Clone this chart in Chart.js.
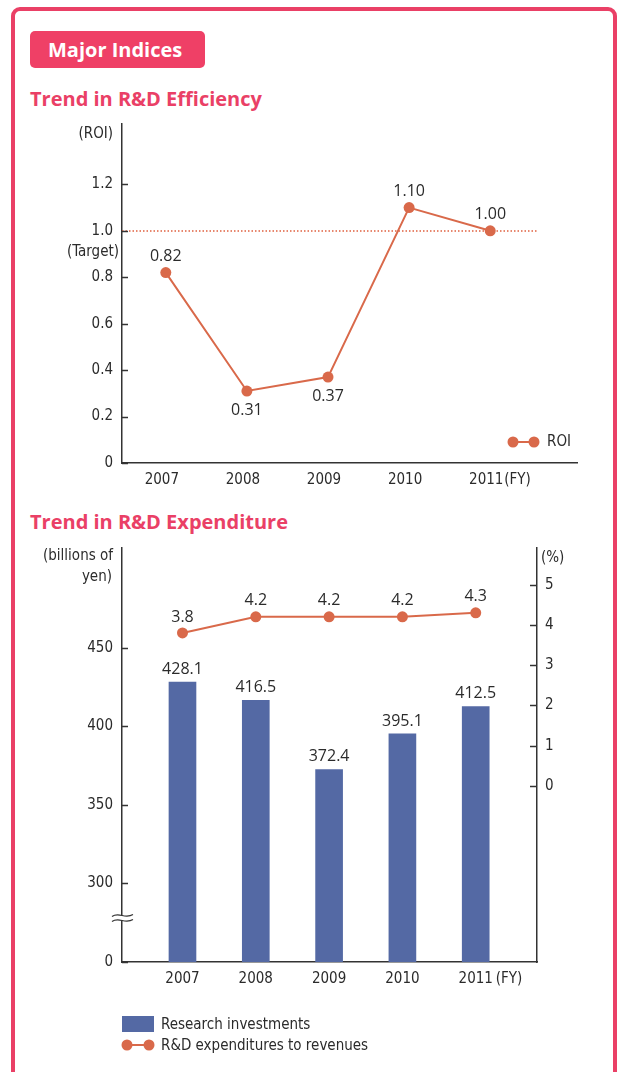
<!DOCTYPE html>
<html>
<head>
<meta charset="utf-8">
<script src="https://cdn.jsdelivr.net/npm/chart.js@4.4.0/dist/chart.umd.min.js"></script>
<style>
  body { margin: 0; background: #fff; width: 617px; height: 1072px; overflow: hidden; position: relative; font-family: 'Open Sans', sans-serif; }
  .frame { position: absolute; left: 11px; top: 7px; width: 598px; height: 1120px; border: 4px solid #ea4066; border-radius: 9px; }
  .badge { position: absolute; left: 30px; top: 31px; width: 175px; height: 37px; background: #ef4066; border-radius: 5px; color: #fff; font-weight: 700; font-size: 20px; line-height: 37px; padding-left: 18px; box-sizing: border-box; }
  .title { position: absolute; left: 30px; color: #ea4066; font-weight: 700; font-size: 20px; line-height: 20px; white-space: nowrap; }
  canvas { position: absolute; left: 0; }
</style>
</head>
<body>
<div class="frame"></div>
<div class="badge">Major Indices</div>
<div class="title" style="top:89px">Trend in R&amp;D Efficiency</div>
<div class="title" style="top:512px">Trend in R&amp;D Expenditure</div>
<canvas id="roiChart" width="617" height="390" style="top:110px"></canvas>
<canvas id="rdChart" width="617" height="542" style="top:530px"></canvas>
<script>
// data
const years = [2007, 2008, 2009, 2010, 2011];
const roi = [0.82, 0.31, 0.37, 1.10, 1.00];
const roiTarget = 1.0;
const roiTicks = [0, 0.2, 0.4, 0.6, 0.8, 1.0, 1.2];
const investments = [428.1, 416.5, 372.4, 395.1, 412.5];
const rdRatio = [3.8, 4.2, 4.2, 4.2, 4.3];
const investBreak = 250;               // axis is broken below this, drawn as 0
const investTicks = [0, 300, 350, 400, 450];
const ratioTicks = [0, 1, 2, 3, 4, 5];

const LINE = '#d9694a', BAR = '#5469a4', INK = '#2b2b2b', AXIS = '#333';
const NARROW = "'DejaVu Sans Condensed', 'Liberation Sans Narrow', sans-serif";
const tickFont = '15px ' + NARROW;
const legendFont = '15px ' + NARROW;
const valueFont = "16px 'Open Sans', sans-serif";

Chart.defaults.font.family = NARROW;
Chart.defaults.font.size = 15;
Chart.defaults.color = INK;
Chart.defaults.animation = false;

function txt(ctx, s, x, y, align, font) {
  ctx.save();
  ctx.font = font || tickFont;
  ctx.fillStyle = INK;
  ctx.textAlign = align || 'center';
  ctx.textBaseline = 'middle';
  ctx.fillText(s, x, y);
  ctx.restore();
}

// no extra room for half labels, chart area is set by layout padding only
function noScalePad(s) {
  s.paddingTop = 0; s.paddingBottom = 0; s.paddingLeft = 0; s.paddingRight = 0;
}

// tick marks drawn on the inner side of the axis
function innerTicks(chart, id, len) {
  const s = chart.scales[id], ctx = chart.ctx;
  const x0 = s.position === 'left' ? s.right : s.left;
  const dir = s.position === 'left' ? 1 : -1;
  ctx.save();
  ctx.strokeStyle = AXIS;
  ctx.lineWidth = 1.5;
  s.ticks.forEach(t => {
    const y = Math.round(s.getPixelForValue(t.value)) + 0.5;
    ctx.beginPath();
    ctx.moveTo(x0, y);
    ctx.lineTo(x0 + dir * len, y);
    ctx.stroke();
  });
  ctx.restore();
}

function lineMarker(ctx, x1, x2, y) {
  ctx.save();
  ctx.strokeStyle = LINE; ctx.fillStyle = LINE; ctx.lineWidth = 2;
  ctx.beginPath(); ctx.moveTo(x1, y); ctx.lineTo(x2, y); ctx.stroke();
  [x1, x2].forEach(x => { ctx.beginPath(); ctx.arc(x, y, 5.5, 0, Math.PI * 2); ctx.fill(); });
  ctx.restore();
}

const axisOpts = { display: true, color: AXIS, width: 1.5 };
const noGrid = { display: false, drawTicks: false, tickLength: 0 };

// ---------- Trend in R&D Efficiency ----------
const roiDecor = {
  id: 'roiDecor',
  beforeDatasetsDraw(chart) {
    const { ctx, chartArea: a, scales: { y } } = chart;
    const ty = Math.round(y.getPixelForValue(roiTarget));
    ctx.save();
    ctx.strokeStyle = '#e0603f';
    ctx.lineWidth = 1.5;
    ctx.setLineDash([1.5, 2]);
    ctx.beginPath(); ctx.moveTo(a.left, ty); ctx.lineTo(a.right - 39, ty); ctx.stroke();
    ctx.restore();
  },
  afterDraw(chart, args, opts) {
    const { ctx, chartArea: a, scales: { x, y } } = chart;
    innerTicks(chart, 'y', 6);
    txt(ctx, '(ROI)', a.left - 9, a.top + 10, 'right');
    txt(ctx, '(Target)', a.left - 3, y.getPixelForValue(roiTarget) + 21, 'right');
    txt(ctx, '(FY)', x.getPixelForValue(years[years.length - 1]) + 14, a.bottom + 17, 'left');
    chart.getDatasetMeta(0).data.forEach((p, i) => {
      const above = opts.labelAbove[i];
      txt(ctx, roi[i].toFixed(2), p.x, p.y + (above ? -16 : 19), 'center', valueFont);
    });
    lineMarker(ctx, a.right - 64, a.right - 43, a.bottom - 21);
    txt(ctx, chart.data.datasets[0].label, a.right - 30, a.bottom - 21, 'left', legendFont);
  }
};

new Chart(document.getElementById('roiChart'), {
  type: 'line',
  data: {
    datasets: [{
      label: 'ROI',
      data: years.map((yr, i) => ({ x: yr, y: roi[i] })),
      borderColor: LINE,
      backgroundColor: LINE,
      borderWidth: 2,
      pointRadius: 5.5,
      pointBorderWidth: 0,
      tension: 0
    }]
  },
  options: {
    responsive: false,
    animation: false,
    layout: { padding: { top: 14, right: 40, left: 0, bottom: 0 } },
    plugins: {
      legend: { display: false },
      tooltip: { enabled: false },
      roiDecor: { labelAbove: [true, false, false, true, true] }
    },
    scales: {
      x: {
        type: 'linear', min: 2006.46, max: 2012.07, offset: false,
        grid: noGrid, border: axisOpts,
        afterBuildTicks: s => { s.ticks = years.map(v => ({ value: v })); },
        afterFit: s => { s.height = 37; noScalePad(s); },
        ticks: { padding: 8, labelOffset: -4, color: INK, callback: v => String(v) }
      },
      y: {
        min: 0, max: 1.46,
        grid: noGrid, border: axisOpts,
        afterBuildTicks: s => { s.ticks = roiTicks.map(v => ({ value: v })); },
        afterFit: s => { s.width = 122; noScalePad(s); },
        ticks: { padding: 9, color: INK, callback: v => v === 0 ? '0' : v.toFixed(1) }
      }
    }
  },
  plugins: [roiDecor]
});

// ---------- Trend in R&D Expenditure ----------
const rdDecor = {
  id: 'rdDecor',
  afterDraw(chart) {
    const { ctx, chartArea: a, scales: { x, y } } = chart;
    innerTicks(chart, 'y', 6);
    innerTicks(chart, 'y1', 7);

    // axis break mark
    const by = y.getPixelForValue(investBreak + 28);
    ctx.save();
    ctx.fillStyle = '#fff';
    ctx.fillRect(a.left - 3, by - 2.5, 6, 5);
    ctx.strokeStyle = AXIS; ctx.lineWidth = 1.2;
    [-2.5, 2.5].forEach(d => {
      const x0 = a.left - 10, yy = by + d;
      ctx.beginPath();
      ctx.moveTo(x0, yy + 1);
      ctx.bezierCurveTo(x0 + 7, yy - 4, x0 + 13, yy + 4, x0 + 21, yy - 1);
      ctx.stroke();
    });
    ctx.restore();

    txt(ctx, '(billions of', a.left - 9, a.top + 8, 'right');
    txt(ctx, 'yen)', a.left - 10, a.top + 29, 'right');
    txt(ctx, '(%)', a.right + 4, a.top + 10, 'left');
    txt(ctx, '(FY)', x.getPixelForValue(years[years.length - 1]) + 20, a.bottom + 17, 'left');

    chart.getDatasetMeta(1).data.forEach((b, i) => {
      txt(ctx, investments[i].toFixed(1), b.x, b.y - 13, 'center', valueFont);
    });
    chart.getDatasetMeta(0).data.forEach((p, i) => {
      txt(ctx, rdRatio[i].toFixed(1), p.x, p.y - 16, 'center', valueFont);
    });

    // legend
    const ds = chart.data.datasets;
    ctx.save();
    ctx.fillStyle = BAR;
    ctx.fillRect(a.left, a.bottom + 54, 32, 16);
    ctx.restore();
    txt(ctx, ds[1].label, a.left + 39, a.bottom + 63, 'left', legendFont);
    lineMarker(ctx, a.left + 5, a.left + 27, a.bottom + 83);
    txt(ctx, ds[0].label, a.left + 39, a.bottom + 84, 'left', legendFont);
  }
};

new Chart(document.getElementById('rdChart'), {
  type: 'bar',
  data: {
    datasets: [{
      type: 'line',
      label: 'R&D expenditures to revenues',
      data: years.map((yr, i) => ({ x: yr, y: rdRatio[i] })),
      yAxisID: 'y1',
      borderColor: LINE,
      backgroundColor: LINE,
      borderWidth: 2,
      pointRadius: 5.5,
      pointBorderWidth: 0,
      tension: 0,
      order: 0
    }, {
      type: 'bar',
      label: 'Research investments',
      data: years.map((yr, i) => ({ x: yr, y: investments[i] })),
      yAxisID: 'y',
      backgroundColor: BAR,
      barThickness: 27,
      order: 1
    }]
  },
  options: {
    responsive: false,
    animation: false,
    layout: { padding: { top: 18, right: 0, left: 0, bottom: 0 } },
    plugins: { legend: { display: false }, tooltip: { enabled: false } },
    scales: {
      x: {
        type: 'linear', min: 2006.175, max: 2011.836, offset: false,
        grid: noGrid, border: axisOpts,
        afterBuildTicks: s => { s.ticks = years.map(v => ({ value: v })); },
        afterFit: s => { s.height = 110; noScalePad(s); },
        ticks: { padding: 8, color: INK, callback: v => String(v) }
      },
      y: {
        position: 'left', min: investBreak, max: 513.4,
        grid: noGrid, border: axisOpts,
        afterBuildTicks: s => { s.ticks = investTicks.map(v => ({ value: v === 0 ? investBreak : v })); },
        afterFit: s => { s.width = 122; noScalePad(s); },
        ticks: { padding: 9, color: INK, callback: v => v === investBreak ? '0' : String(v) }
      },
      y1: {
        position: 'right', min: -4.37, max: 5.91,
        grid: noGrid, border: axisOpts,
        afterBuildTicks: s => { s.ticks = ratioTicks.map(v => ({ value: v })); },
        afterFit: s => { s.width = 80; noScalePad(s); },
        ticks: { padding: 8, color: INK, callback: v => String(v) }
      }
    }
  },
  plugins: [rdDecor]
});
</script>
</body>
</html>
